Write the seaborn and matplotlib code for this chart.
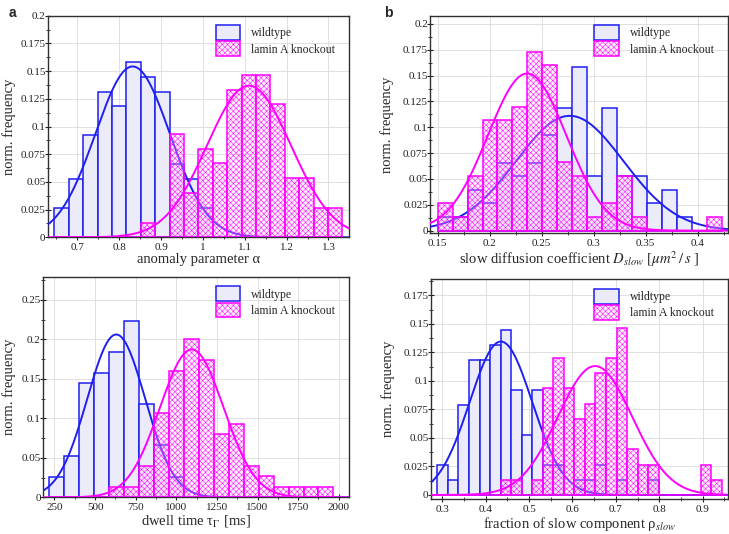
import numpy as np
import pandas as pd
import seaborn as sns
import matplotlib.pyplot as plt
from matplotlib.patches import Patch
from matplotlib.ticker import MultipleLocator, AutoMinorLocator, FuncFormatter

# counts per histogram bin (76 wildtype / 75 knockout cells)
# anomaly parameter alpha
alpha_bins = (0.645, 1.333, 20)
alpha_wt = [2, 4, 7, 10, 9, 12, 11, 10, 5, 4, 2, 0, 0, 0, 0, 0, 0, 0, 0, 0]
alpha_ko = [0, 0, 0, 0, 0, 0, 1, 0, 7, 3, 6, 5, 10, 11, 11, 9, 4, 4, 2, 2]
alpha_fit_wt = (0.832, 0.089)
alpha_fit_ko = (1.110, 0.1003)

# slow diffusion coefficient
diff_bins = (0.150, 0.423, 19)
diff_wt = [1, 1, 3, 2, 5, 4, 5, 7, 9, 12, 4, 9, 4, 4, 2, 3, 1, 0, 0]
diff_ko = [2, 1, 4, 8, 8, 9, 13, 12, 5, 4, 1, 2, 4, 1, 0, 0, 0, 0, 1]
diff_fit_wt = (0.277, 0.0516)
diff_fit_ko = (0.236, 0.0377)

# dwell time [ms]
dwell_bins = (219, 1967, 19)
dwell_wt = [2, 4, 11, 12, 14, 17, 9, 5, 2, 0, 0, 0, 0, 0, 0, 0, 0, 0, 0]
dwell_ko = [0, 0, 0, 0, 1, 1, 3, 8, 12, 15, 13, 6, 7, 3, 2, 1, 1, 1, 1]
dwell_fit_wt = (630, 178)
dwell_fit_ko = (1095, 196)

# fraction of slow component
rho_bins = (0.2885, 0.9446, 27)
rho_wt = [2, 1, 6, 9, 9, 10, 11, 7, 4, 7, 2, 2, 0, 1, 1, 2, 0, 1, 0, 0, 1, 0, 0, 0, 0, 0, 0]
rho_ko = [0, 0, 0, 0, 0, 0, 1, 1, 0, 1, 7, 9, 7, 5, 6, 8, 9, 11, 3, 2, 2, 0, 0, 0, 0, 2, 1]
rho_fit_wt = (0.435, 0.0721)
rho_fit_ko = (0.652, 0.0858)

labels = ["wildtype", "lamin A knockout"]

sns.set_style("whitegrid")
plt.rcParams['font.family'] = ['Liberation Serif', 'DejaVu Serif']
plt.rcParams['mathtext.fontset'] = 'stix'
plt.rcParams['hatch.linewidth'] = 0.35

BLUE = '#1f1ff0'
MAG = '#ff00ff'
WT_FILL = '#ebebfa'
KO_FILL = (1.0, 0.78, 1.0, 0.3)
HATCH = 'xxxxxx'

W, H = 729, 534


def hist_panel(ax, bins, wt, ko, fit_wt, fit_ko, xlim, ylim, xstep, ystep, xlabel, ylab_px):
    lo, hi, n = bins
    width = (hi - lo) / n
    centers = lo + width * (np.arange(n) + 0.5)
    df = pd.DataFrame({"x": centers, "wt": wt, "ko": ko})

    xs = np.linspace(xlim[0], xlim[1], 400)

    def gauss(p):
        mu, sd = p
        return width * np.exp(-(xs - mu) ** 2 / (2 * sd ** 2)) / (sd * np.sqrt(2 * np.pi))

    sns.histplot(data=df, x="x", weights="wt", bins=n, binrange=(lo, hi), stat="probability", ax=ax,
                 facecolor=WT_FILL, edgecolor=BLUE, linewidth=1.1, zorder=2)
    sns.lineplot(x=xs, y=gauss(fit_wt), color=BLUE, lw=1.4, ax=ax, zorder=3)
    sns.histplot(data=df, x="x", weights="ko", bins=n, binrange=(lo, hi), stat="probability", ax=ax,
                 facecolor=KO_FILL, edgecolor=MAG, linewidth=1.1, hatch=HATCH, zorder=4)
    sns.lineplot(x=xs, y=gauss(fit_ko), color=MAG, lw=1.4, ax=ax, zorder=5)

    ax.set_xlim(*xlim)
    ax.set_ylim(*ylim)
    ax.xaxis.set_major_locator(MultipleLocator(xstep))
    ax.yaxis.set_major_locator(MultipleLocator(ystep))
    ax.xaxis.set_minor_locator(AutoMinorLocator(2))
    ax.yaxis.set_minor_locator(AutoMinorLocator(2))
    fmt = FuncFormatter(lambda v, p: "{:g}".format(round(v, 4)))
    ax.xaxis.set_major_formatter(fmt)
    ax.yaxis.set_major_formatter(fmt)
    ax.tick_params(which='major', direction='inout', length=5, width=0.8, labelsize=8,
                   bottom=True, left=True, colors='#222222')
    ax.tick_params(axis='x', which='major', pad=1.5)
    ax.tick_params(axis='y', which='major', pad=-1)
    ax.tick_params(which='minor', direction='inout', length=3, width=0.6,
                   bottom=True, left=True, colors='#222222')
    ax.grid(True, which='major', color='#dadada', lw=0.6)
    ax.grid(False, which='minor')
    ax.set_axisbelow(True)
    for s in ax.spines.values():
        s.set_color('#303030')
        s.set_linewidth(1.0)
    ax.set_xlabel(xlabel, fontsize=10.5, labelpad=1)
    ax.set_ylabel("norm. frequency", fontsize=10.5, va='center')
    pos = ax.get_position()
    ax.yaxis.set_label_coords((ylab_px / W - pos.x0) / pos.width, 0.5)

    handles = [Patch(facecolor=WT_FILL, edgecolor=BLUE, lw=1.1),
               Patch(facecolor=KO_FILL, edgecolor=MAG, lw=1.1, hatch=HATCH)]
    ax.legend(handles, labels, loc='upper right', frameon=False, fontsize=8.5,
              handlelength=2.1, handleheight=1.55, labelspacing=0.12, handletextpad=0.9,
              borderaxespad=0.4, bbox_to_anchor=(0.985, 1.0))


fig = plt.figure(figsize=(7.29, 5.34), dpi=100)
ax_a = fig.add_axes([47.7 / W, 1 - 237.3 / H, 301.3 / W, 221.6 / H])
ax_b = fig.add_axes([430 / W, 1 - 233.3 / H, 297.7 / W, 217.6 / H])
ax_c = fig.add_axes([42.8 / W, 1 - 497.3 / H, 306.2 / W, 220.3 / H])
ax_d = fig.add_axes([430.7 / W, 1 - 499.3 / H, 297 / W, 220 / H])

hist_panel(ax_a, alpha_bins, alpha_wt, alpha_ko, alpha_fit_wt, alpha_fit_ko,
           (0.629, 1.349), (0, 0.2), 0.1, 0.025, "anomaly parameter α", 9)
hist_panel(ax_b, diff_bins, diff_wt, diff_ko, diff_fit_wt, diff_fit_ko,
           (0.1426, 0.4289), (-0.0026, 0.208), 0.05, 0.025,
           r"slow diffusion coefficient $D_{slow}$ [$\mu m^2\,/\,s$ ]", 387)
hist_panel(ax_c, dwell_bins, dwell_wt, dwell_ko, dwell_fit_wt, dwell_fit_ko,
           (178, 2063), (0, 0.279), 250, 0.05, r"dwell time τ$_\Gamma$ [ms]", 9)
hist_panel(ax_d, rho_bins, rho_wt, rho_ko, rho_fit_wt, rho_fit_ko,
           (0.273, 0.958), (-0.0038, 0.189), 0.1, 0.025,
           r"fraction of slow component ρ$_{slow}$", 388)

fig.text(0.012, 0.975, "a", fontsize=10, fontweight='bold', family='Liberation Sans', va='center')
fig.text(0.527, 0.975, "b", fontsize=10, fontweight='bold', family='Liberation Sans', va='center')

fig.savefig("out.png", dpi=100)
